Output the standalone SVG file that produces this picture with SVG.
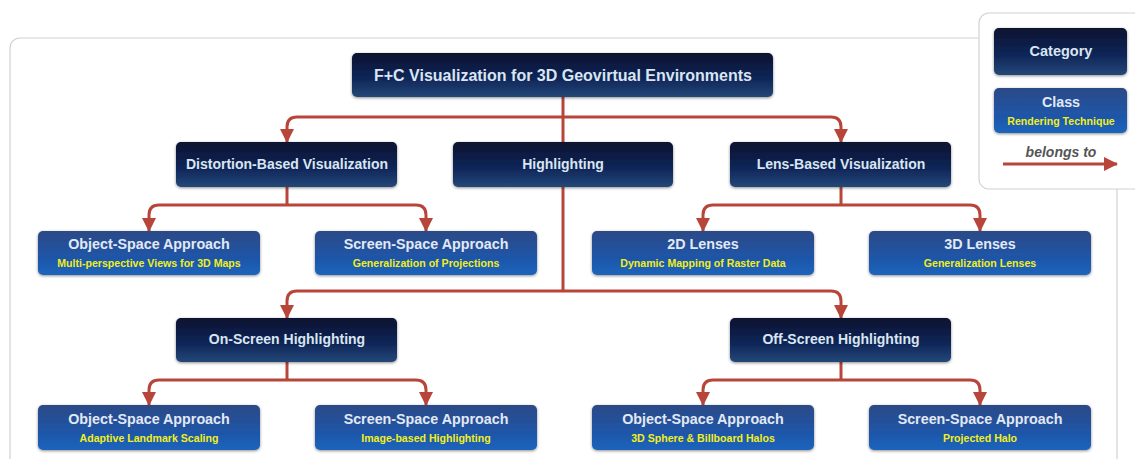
<svg xmlns="http://www.w3.org/2000/svg" width="1135" height="459" viewBox="0 0 1135 459">
<defs>
<linearGradient id="gCat" x1="0" y1="0" x2="0" y2="1">
<stop offset="0" stop-color="#07112e"/>
<stop offset="0.6" stop-color="#10275a"/>
<stop offset="1" stop-color="#244878"/>
</linearGradient>
<linearGradient id="gCls" x1="0" y1="0" x2="0" y2="1">
<stop offset="0" stop-color="#2c4a86"/>
<stop offset="0.6" stop-color="#1f55a8"/>
<stop offset="1" stop-color="#1b64bc"/>
</linearGradient>
<filter id="sh" x="-10%" y="-30%" width="120%" height="160%">
<feGaussianBlur in="SourceAlpha" stdDeviation="1.6"/>
<feComponentTransfer><feFuncA type="linear" slope="0.45"/></feComponentTransfer>
<feOffset dx="0" dy="0.5" result="b"/>
<feMerge><feMergeNode in="b"/><feMergeNode in="SourceGraphic"/></feMerge>
</filter>
<marker id="ah2" viewBox="0 0 14 14" refX="13" refY="7" markerWidth="14" markerHeight="14" markerUnits="userSpaceOnUse" orient="auto">
<path d="M0,0 L14,7 L0,14 Z" fill="#b8453a"/>
</marker>
</defs>
<style>
.frame{fill:#ffffff;stroke:#d2d2d2;stroke-width:1.2}
.cat{fill:url(#gCat);filter:url(#sh)}
.cls{fill:url(#gCls);filter:url(#sh)}
.ct{font-family:"Liberation Sans",Arial,sans-serif;font-weight:bold;font-size:14px;fill:#dbe5f1;text-anchor:middle}
.rt{font-size:16px}
.t1{font-family:"Liberation Sans",Arial,sans-serif;font-weight:bold;font-size:14.3px;fill:#e2e9f4;text-anchor:middle}
.t2{font-family:"Liberation Sans",Arial,sans-serif;font-weight:bold;font-size:10.6px;fill:#f2ee1c;text-anchor:middle}
.c{fill:none;stroke:#b8453a;stroke-width:3}
.a{marker-end:url(#ah2)}
.lg{font-family:"Liberation Sans",Arial,sans-serif;font-weight:bold;font-style:italic;font-size:14px;fill:#555555;text-anchor:middle}
</style>

<rect class="frame" x="10" y="38" width="1107" height="440" rx="10"/>

<g id="connectors">
<path class="c" d="M563,97 V142"/>
<path class="c a" d="M563,117 H297 Q287,117 287,127 V142"/>
<path class="c a" d="M563,117 H831 Q841,117 841,127 V142"/>
<path class="c" d="M287,187 V205"/>
<path class="c a" d="M287,205 H159 Q149,205 149,215 V231"/>
<path class="c a" d="M287,205 H416 Q426,205 426,215 V231"/>
<path class="c" d="M841,187 V205"/>
<path class="c a" d="M841,205 H713 Q703,205 703,215 V231"/>
<path class="c a" d="M841,205 H970 Q980,205 980,215 V231"/>
<path class="c" d="M563,187 V291"/>
<path class="c a" d="M563,291 H297 Q287,291 287,301 V318"/>
<path class="c a" d="M563,291 H831 Q841,291 841,301 V318"/>
<path class="c" d="M287,362 V380"/>
<path class="c a" d="M287,380 H159 Q149,380 149,390 V405"/>
<path class="c a" d="M287,380 H416 Q426,380 426,390 V405"/>
<path class="c" d="M841,362 V380"/>
<path class="c a" d="M841,380 H713 Q703,380 703,390 V405"/>
<path class="c a" d="M841,380 H970 Q980,380 980,390 V405"/>
</g>

<g id="root"><rect class="cat" x="352" y="53" width="421" height="44" rx="5"/><text class="ct rt" x="563" y="81">F+C Visualization for 3D Geovirtual Environments</text></g>

<g id="distortion"><rect class="cat" x="176" y="142" width="221" height="45" rx="5"/><text class="ct" x="287" y="169">Distortion-Based Visualization</text></g>
<g id="highlighting"><rect class="cat" x="453" y="142" width="220" height="45" rx="5"/><text class="ct" x="563" y="169">Highlighting</text></g>
<g id="lens"><rect class="cat" x="730" y="142" width="221" height="45" rx="5"/><text class="ct" x="841" y="169">Lens-Based Visualization</text></g>

<g id="dist-object"><rect class="cls" x="38" y="231" width="222" height="44" rx="5"/><text class="t1" x="149" y="249">Object-Space Approach</text><text class="t2" x="149" y="267">Multi-perspective Views for 3D Maps</text></g>
<g id="dist-screen"><rect class="cls" x="315" y="231" width="222" height="44" rx="5"/><text class="t1" x="426" y="249">Screen-Space Approach</text><text class="t2" x="426" y="267">Generalization of Projections</text></g>
<g id="lens-2d"><rect class="cls" x="592" y="231" width="222" height="44" rx="5"/><text class="t1" x="703" y="249">2D Lenses</text><text class="t2" x="703" y="267">Dynamic Mapping of Raster Data</text></g>
<g id="lens-3d"><rect class="cls" x="869" y="231" width="222" height="44" rx="5"/><text class="t1" x="980" y="249">3D Lenses</text><text class="t2" x="980" y="267">Generalization Lenses</text></g>

<g id="onscreen"><rect class="cat" x="176" y="318" width="221" height="44" rx="5"/><text class="ct" x="287" y="344">On-Screen Highlighting</text></g>
<g id="offscreen"><rect class="cat" x="730" y="318" width="221" height="44" rx="5"/><text class="ct" x="841" y="344">Off-Screen Highlighting</text></g>

<g id="on-object"><rect class="cls" x="38" y="405" width="222" height="45" rx="5"/><text class="t1" x="149" y="424">Object-Space Approach</text><text class="t2" x="149" y="442">Adaptive Landmark Scaling</text></g>
<g id="on-screen"><rect class="cls" x="315" y="405" width="222" height="45" rx="5"/><text class="t1" x="426" y="424">Screen-Space Approach</text><text class="t2" x="426" y="442">Image-based Highlighting</text></g>
<g id="off-object"><rect class="cls" x="592" y="405" width="222" height="45" rx="5"/><text class="t1" x="703" y="424">Object-Space Approach</text><text class="t2" x="703" y="442">3D Sphere &amp; Billboard Halos</text></g>
<g id="off-screen"><rect class="cls" x="869" y="405" width="222" height="45" rx="5"/><text class="t1" x="980" y="424">Screen-Space Approach</text><text class="t2" x="980" y="442">Projected Halo</text></g>

<g id="legend">
<rect class="frame" x="979" y="13" width="175" height="176" rx="10"/>
<rect class="cat" x="994" y="28" width="133" height="47" rx="5"/><text class="ct" x="1061" y="56" style="font-size:14.5px">Category</text>
<rect class="cls" x="994" y="88" width="133" height="45" rx="5"/><text class="t1" x="1061" y="107">Class</text><text class="t2" x="1061" y="125">Rendering Technique</text>
<text class="lg" x="1061" y="157">belongs to</text>
<path class="c" d="M1003,164 H1117" marker-end="url(#ah2)"/>
</g>
</svg>
